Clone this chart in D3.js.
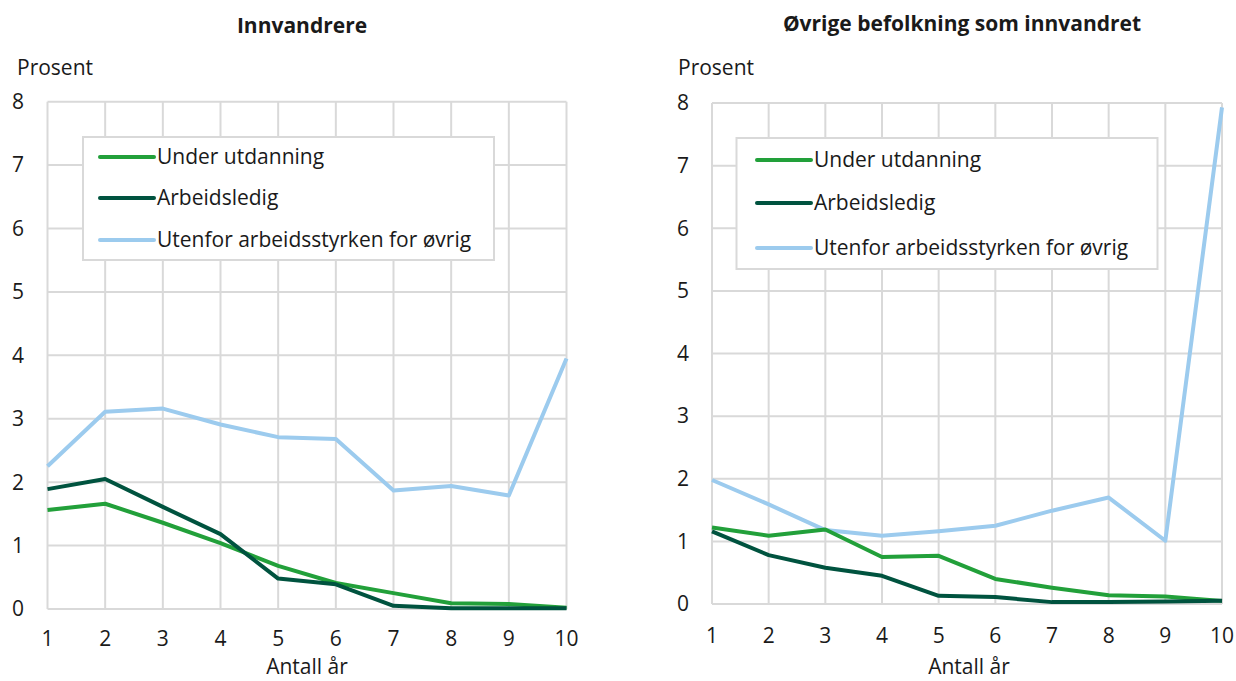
<!DOCTYPE html>
<html><head><meta charset="utf-8">
<script src="https://cdn.jsdelivr.net/npm/d3@7"></script>
<style>
body{margin:0;background:#fff;}
text{font-family:"Open Sans",sans-serif;fill:#1a1a1a;}
</style></head>
<body><svg id="c" width="1236" height="681"></svg>
<script>
const years = [1,2,3,4,5,6,7,8,9,10];
const yTicks = [0,1,2,3,4,5,6,7,8];
const seriesNames = ["Under utdanning","Arbeidsledig","Utenfor arbeidsstyrken for øvrig"];
const seriesColors = ["#22a03a","#00533f","#9ccbee"];
const leftTitle = "Innvandrere";
const rightTitle = "Øvrige befolkning som innvandret";
// Innvandrere
const leftUnder = [1.56,1.66,1.36,1.04,0.68,0.41,0.25,0.09,0.08,0.02];
const leftArb   = [1.89,2.05,1.61,1.18,0.48,0.39,0.05,0.01,0.01,0.01];
const leftUten  = [2.25,3.11,3.16,2.91,2.71,2.68,1.87,1.94,1.79,3.95];
// Øvrige befolkning
const rightUnder = [1.22,1.09,1.19,0.75,0.77,0.40,0.26,0.14,0.12,0.05];
const rightArb   = [1.16,0.78,0.58,0.45,0.13,0.11,0.03,0.03,0.04,0.05];
const rightUten  = [1.98,1.59,1.18,1.09,1.16,1.25,1.49,1.70,1.01,7.93];

const svg = d3.select("#c");
const FS = 21;

function panel(cfg){
  const g = svg.append("g");
  const x = d3.scaleLinear().domain([1,10]).range([cfg.x0,cfg.x1]);
  const y = d3.scaleLinear().domain([0,8]).range([cfg.y0,cfg.y1]);
  // grid
  g.append("g").selectAll("line.h").data(yTicks).join("line")
    .attr("x1",cfg.x0).attr("x2",cfg.x1).attr("y1",d=>y(d)).attr("y2",d=>y(d))
    .attr("stroke","#d9d9d9").attr("stroke-width",2);
  g.append("g").selectAll("line.v").data(years).join("line")
    .attr("x1",d=>x(d)).attr("x2",d=>x(d)).attr("y1",cfg.y0).attr("y2",cfg.y1)
    .attr("stroke","#d9d9d9").attr("stroke-width",2);
  // y tick labels
  g.append("g").selectAll("text").data(yTicks).join("text")
    .attr("x",cfg.yLabX).attr("y",d=>y(d)).attr("dy","0.35em")
    .attr("text-anchor","middle").attr("font-size",FS).text(d=>d);
  // x tick labels
  g.append("g").selectAll("text").data(years).join("text")
    .attr("x",d=>x(d)).attr("y",cfg.xLabY).attr("dy","0.35em")
    .attr("text-anchor","middle").attr("font-size",FS).text(d=>d);
  // title
  g.append("text").attr("x",cfg.titleX).attr("y",cfg.titleY).attr("dy","0.35em")
    .attr("text-anchor","middle").attr("font-size",FS).attr("font-weight","bold").text(cfg.title);
  g.append("text").attr("x",cfg.prosX).attr("y",68).attr("dy","0.35em")
    .attr("font-size",FS).text("Prosent");
  g.append("text").attr("x",cfg.axTitleX).attr("y",cfg.axTitleY).attr("dy","0.35em")
    .attr("text-anchor","middle").attr("font-size",FS).text("Antall år");
  // legend
  const lg = g.append("g");
  lg.append("rect").attr("x",cfg.lg.x).attr("y",cfg.lg.y).attr("width",cfg.lg.w).attr("height",cfg.lg.h)
    .attr("fill","#fff").attr("stroke","#d9d9d9").attr("stroke-width",2);
  seriesNames.forEach((n,i)=>{
    const yy = cfg.lg.rows[i];
    lg.append("line").attr("x1",cfg.lg.lx0).attr("x2",cfg.lg.lx1).attr("y1",yy).attr("y2",yy)
      .attr("stroke",seriesColors[i]).attr("stroke-width",4).attr("stroke-linecap","round");
    lg.append("text").attr("x",cfg.lg.tx).attr("y",yy).attr("dy","0.35em")
      .attr("font-size",FS).text(n);
  });
  // lines (drawn order: Utenfor, Under, Arbeidsledig)
  const line = d3.line().x((d,i)=>x(years[i])).y(d=>y(d));
  const order = [2,0,1];
  order.forEach(i=>{
    g.append("path").datum(cfg.data[i]).attr("d",line).attr("fill","none")
      .attr("stroke",seriesColors[i]).attr("stroke-width",4).attr("stroke-linejoin","round");
  });
}

panel({x0:47.5,x1:566.5,y0:609,y1:101.7,yLabX:18,xLabY:639,title:leftTitle,titleX:302,titleY:26,
  prosX:17,axTitleX:307,axTitleY:667,
  lg:{x:83,y:137,w:411,h:123,lx0:100,lx1:154,tx:157,rows:[157,198,240]},
  data:[leftUnder,leftArb,leftUten]});
panel({x0:712,x1:1222,y0:604,y1:103,yLabX:683,xLabY:636,title:rightTitle,titleX:962,titleY:24,
  prosX:678,axTitleX:969,axTitleY:667,
  lg:{x:736.5,y:138,w:421,h:131,lx0:757,lx1:811,tx:814,rows:[160,203,248]},
  data:[rightUnder,rightArb,rightUten]});
</script></body></html>
